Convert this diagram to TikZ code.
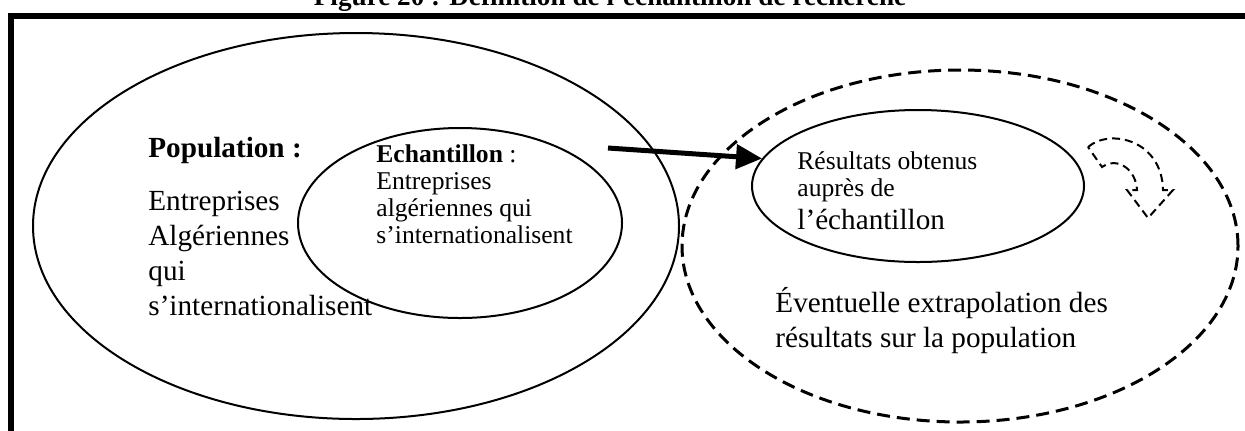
\documentclass[tikz,border=0pt]{standalone}
\usepackage{fontspec}
\setmainfont{Liberation Serif}
\usetikzlibrary{shapes.geometric,arrows.meta}

\newcommand*{\wmax}{1245}
\newcommand*{\hmax}{430}

\begin{document}
\begin{tikzpicture}
[
	x=0.5pt,y=-0.5pt,
	solidell/.style={ellipse,draw,line width=1pt,inner sep=0pt},
	dashell/.style={ellipse,draw,line width=1.5pt,dash pattern=on 6.5pt off 3.5pt,inner sep=0pt},
	bigtxt/.style={inner sep=0pt,anchor=base west,align=left,font=\fontsize{14.6}{17.5}\selectfont},
	smalltxt/.style={inner sep=0pt,anchor=base west,align=left,font=\fontsize{12.8}{13.5}\selectfont}
]

	\useasboundingbox (0,0) rectangle (\wmax,\hmax);
	\clip (0,0) rectangle (\wmax,\hmax);

	% title, cut off by the top edge
	\node[anchor=base,inner sep=0pt,font=\bfseries\fontsize{13.6}{16}\selectfont] (title) at (610,5)
	  {Figure 20 : Définition de l’échantillon de recherche};

	% frame
	\draw[line width=3pt] (11,1000) -- (11,16) -- (2000,16);

	% sets
	\node[solidell,minimum width=323pt,minimum height=193pt] (pop) at (356,226) {};
	\node[solidell,minimum width=162pt,minimum height=95pt] (ech) at (460,223) {};
	\node[solidell,minimum width=166pt,minimum height=76pt] (res) at (918,186) {};
	\node[dashell,minimum width=278pt,minimum height=176pt] (extra) at (960,246) {};

	% texts
	\node[bigtxt] (poplbl) at (148,157) {\textbf{Population :}};
	\node[bigtxt] (poptxt) at (148,315) {Entreprises\\Algériennes\\qui\\s’internationalisent};
	\node[smalltxt] (echtxt) at (376,243) {\textbf{Echantillon} :\\Entreprises\\algériennes qui\\s’internationalisent};
	\node[smalltxt] (restxt) at (797,229) {Résultats obtenus\\auprès de\\[3pt]{\fontsize{14.6}{17.5}\selectfont l’échantillon}};
	\node[bigtxt] (extxt) at (775,347) {Éventuelle extrapolation des\\résultats sur la population};

	% arrow from sample to results
	\coordinate (astart) at (608,148);
	\draw[line width=2.5pt,-{Triangle[length=13pt,width=12pt]}] (astart) -- (res.170);

	% curved arrow, back to the population
	\draw[line width=1pt,dash pattern=on 4pt off 2.5pt]
	  (1088,147) .. controls (1110,128) and (1162,140) .. (1163,190)
	  -- (1173,190) -- (1148,218) -- (1127,190) -- (1137,190)
	  .. controls (1136,170) and (1118,156) .. (1102,167) -- cycle;

\end{tikzpicture}
\end{document}
